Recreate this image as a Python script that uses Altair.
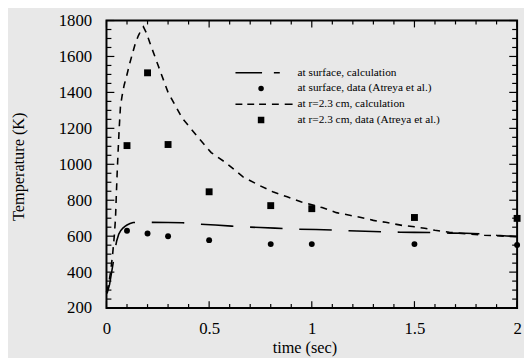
import altair as alt
import pandas as pd

# ---- data ----
r23_t = [0.0, 0.01, 0.02, 0.03, 0.038, 0.044, 0.048, 0.052, 0.057, 0.062, 0.068, 0.076, 0.086,
         0.1, 0.113, 0.125, 0.14, 0.155, 0.17, 0.18, 0.195, 0.21, 0.25, 0.3, 0.37, 0.45, 0.51,
         0.58, 0.665, 0.74, 0.81, 0.88, 0.95, 1.05, 1.12, 1.19, 1.24, 1.3, 1.36, 1.44, 1.5,
         1.55, 1.6, 1.67, 1.75, 1.84, 1.94, 2.0]
r23_T = [290, 330, 400, 500, 600, 700, 830, 950, 1080, 1200, 1320, 1380, 1440,
         1500, 1560, 1610, 1670, 1715, 1750, 1765, 1730, 1680, 1555, 1400, 1255, 1145, 1065,
         1010, 930, 885, 847, 819, 790, 759, 731, 715, 704, 688, 677, 660, 652,
         644, 633, 622, 613, 605, 600, 597]

surf_t = [0.0, 0.015, 0.028, 0.038, 0.044, 0.05, 0.06, 0.07, 0.08, 0.09, 0.1, 0.115, 0.13,
          0.2, 0.3, 0.37, 0.455, 0.53, 0.61, 0.69, 0.75, 0.82, 0.94, 1.02, 1.1, 1.18, 1.26,
          1.34, 1.43, 1.5, 1.58, 1.67, 1.75, 1.84, 1.9, 1.95, 2.0]
surf_T = [270, 330, 420, 490, 540, 575, 612, 632, 645, 655, 662, 670, 676,
          677, 676, 675, 667, 662, 656, 651, 648, 645, 639, 637, 634, 630, 627,
          625, 622, 621, 620, 617, 616, 612, 605, 601, 598]

data_t = [0.1, 0.2, 0.3, 0.5, 0.8, 1.0, 1.5, 2.0]
surf_data_T = [630, 615, 600, 578, 556, 556, 556, 551]
r23_data_T = [1104, 1509, 1110, 847, 770, 753, 704, 699]

legend_labels = ["at surface, calculation",
                 "at surface, data (Atreya et al.)",
                 "at r=2.3 cm, calculation",
                 "at r=2.3 cm, data (Atreya et al.)"]

t_lo, t_hi = 0, 2
T_lo, T_hi = 200, 1800
x_major = [0, 0.5, 1, 1.5, 2]
x_minor = [0.1, 0.2, 0.3, 0.4, 0.6, 0.7, 0.8, 0.9,
           1.1, 1.2, 1.3, 1.4, 1.6, 1.7, 1.8, 1.9]
y_major = [200, 400, 600, 800, 1000, 1200, 1400, 1600, 1800]
y_minor = [250, 300, 350, 450, 500, 550, 650, 700, 750, 850,
           900, 950, 1050, 1100, 1150, 1250, 1300, 1350, 1450,
           1500, 1550, 1650, 1700, 1750]

# legend glyphs (symbol paths, unit = sqrt(size)/2 px)
legend_glyphs = [
    "M-10.6,0H-5.2M-2.8,0H-1.6",
    "M-5.8,0A0.4,0.4 0 1,0 -5.0,0A0.4,0.4 0 1,0 -5.8,0Z",
    "M-10.6,0H-9.2M-8.2,0H-6.8M-5.8,0H-4.4M-3.2,0H-1.8M-0.6,0H1",
    "M-5.9,-0.5H-4.9V0.5H-5.9Z",
]

df_r23 = pd.DataFrame({"t": r23_t, "T": r23_T})
df_surf = pd.DataFrame({"t": surf_t, "T": surf_T})
df_sd = pd.DataFrame({"t": data_t, "T": surf_data_T})
df_rd = pd.DataFrame({"t": data_t, "T": r23_data_T})
df_leg = pd.DataFrame({"label": legend_labels})

W, H = 417, 292
FONT = "Liberation Serif"

xs = alt.Scale(domain=[t_lo, t_hi], nice=False, zero=False)
ys = alt.Scale(domain=[T_lo, T_hi], nice=False, zero=False)
x_axis = alt.Axis(orient="bottom", values=x_major, format="~g", ticks=False,
                  domain=False, grid=False, labelPadding=13, labelFlush=False,
                  labelOverlap=False, labelFont=FONT, labelFontSize=17, labelColor="black",
                  title="time (sec)", titleX=201, titleY=45, titleBaseline="alphabetic",
                  titleFont=FONT, titleFontSize=16.5, titleColor="black",
                  titleFontWeight="normal")
y_axis = alt.Axis(orient="left", values=y_major, format="d", ticks=False,
                  domain=False, grid=False, labelPadding=15, labelOverlap=False,
                  labelFont=FONT, labelFontSize=17, labelColor="black",
                  title="Temperature (K)", titleX=-84, titleY=148, titleBaseline="alphabetic",
                  titleFont=FONT, titleFontSize=16.5, titleColor="black",
                  titleFontWeight="normal")
X = alt.X("t:Q", scale=xs, axis=x_axis)
Y = alt.Y("T:Q", scale=ys, axis=y_axis)

line_r23 = alt.Chart(df_r23).mark_line(color="black", strokeWidth=1.6,
                                       strokeDash=[7, 6]).encode(x=X, y=Y)
line_surf = alt.Chart(df_surf).mark_line(color="black", strokeWidth=1.6, strokeDash=[33, 17],
                                         strokeDashOffset=48).encode(x=X, y=Y)
pts_surf = alt.Chart(df_sd).mark_circle(color="black", size=36, opacity=1).encode(x=X, y=Y)
pts_r23 = alt.Chart(df_rd).mark_square(color="black", size=49, opacity=1).encode(x=X, y=Y)


# inward tick marks: short stroked symbols sitting on the frame
def edge_ticks(ts, Ts, path, length):
    df = pd.DataFrame({"t": ts, "T": Ts})
    return alt.Chart(df).mark_point(shape=path, size=(2 * length) ** 2, filled=False,
                                    stroke="black", strokeWidth=1.2, opacity=1).encode(
        x=X, y=Y)


tick_layers = [
    edge_ticks(x_minor, [T_lo] * len(x_minor), "M0,0V-1", 4),
    edge_ticks(x_major, [T_lo] * len(x_major), "M0,0V-1", 7),
    edge_ticks(x_minor, [T_hi] * len(x_minor), "M0,0V1", 4),
    edge_ticks(x_major, [T_hi] * len(x_major), "M0,0V1", 7),
    edge_ticks([t_lo] * len(y_minor), y_minor, "M0,0H1", 5),
    edge_ticks([t_lo] * len(y_major), y_major, "M0,0H1", 8),
    edge_ticks([t_hi] * len(y_minor), y_minor, "M0,0H-1", 5),
    edge_ticks([t_hi] * len(y_major), y_major, "M0,0H-1", 8),
]

legend_layer = alt.Chart(df_leg).mark_point(filled=False, fill="black", stroke="black",
                                            strokeWidth=1.5, size=100, opacity=1).encode(
    shape=alt.Shape("label:N",
                    scale=alt.Scale(domain=legend_labels, range=legend_glyphs),
                    legend=alt.Legend(orient="none", legendX=178, legendY=47, title=None,
                                      labelFont=FONT, labelFontSize=11.5, labelColor="black",
                                      symbolSize=100, symbolStrokeWidth=1.6,
                                      rowPadding=4, labelOffset=4, padding=0)),
).transform_filter("false")

chart = alt.layer(line_r23, line_surf, pts_surf, pts_r23, *tick_layers, legend_layer).properties(
    width=W, height=H,
    autosize=alt.AutoSizeParams(type="none"),
    padding={"left": 100, "top": 10, "right": 7, "bottom": 48},
    background="#e8e8e8",
).configure_view(
    stroke="black", strokeWidth=2
).configure_axis(
    labelFont=FONT, titleFont=FONT
)

chart.save("out.html", embed_options={"renderer": "svg", "actions": False})
